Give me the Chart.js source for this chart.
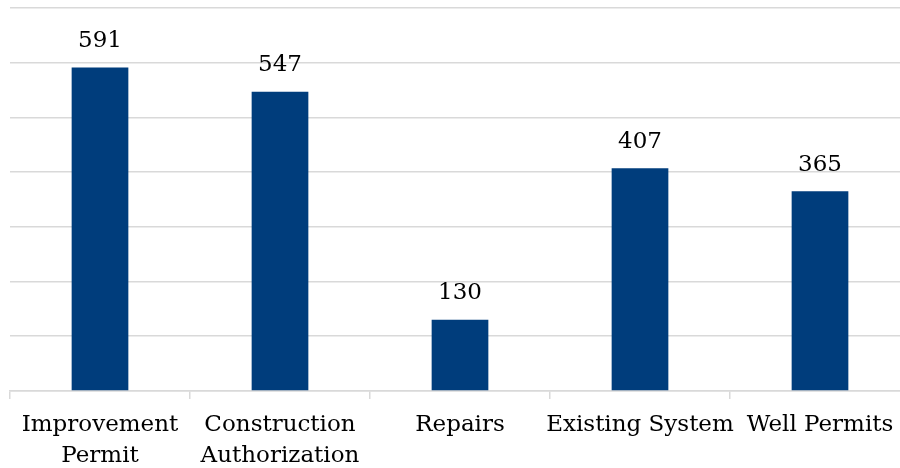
<!DOCTYPE html>
<html>
<head>
<meta charset="utf-8">
<script src="https://cdn.jsdelivr.net/npm/chart.js@4"></script>
<style>
  html, body { margin: 0; padding: 0; background: #fff; overflow: hidden; }
  #wrap { width: 910px; height: 483px; position: relative; }
</style>
</head>
<body>
<div id="wrap"><canvas id="chart1"></canvas></div>
<script>
const categories = [["Improvement", "Permit"], ["Construction", "Authorization"], "Repairs", "Existing System", "Well Permits"];
const permitCounts = [591, 547, 130, 407, 365];
const barColor = '#003d7c';
const gridColor = '#d9d9d9';
const fontFamily = '"DejaVu Serif", serif';

// draws the value above each bar
const valueLabels = {
    id: 'valueLabels',
    afterDatasetsDraw(chart) {
        const ctx = chart.ctx;
        const meta = chart.getDatasetMeta(0);
        ctx.save();
        ctx.font = '23px ' + fontFamily;
        ctx.fillStyle = '#000';
        ctx.textAlign = 'center';
        ctx.textBaseline = 'bottom';
        meta.data.forEach((bar, i) => {
            ctx.fillText(chart.data.datasets[0].data[i], bar.x, bar.y - 15);
        });
        ctx.restore();
    }
};

new Chart("chart1", {
    type: "bar",
    data: {
        labels: categories,
        datasets: [{
            data: permitCounts,
            backgroundColor: barColor,
            barPercentage: 1,
            categoryPercentage: 0.315
        }]
    },
    plugins: [valueLabels],
    options: {
        responsive: true,
        maintainAspectRatio: false,
        animation: false,
        layout: { padding: { left: 10, top: 8, right: 0, bottom: 0 } },
        plugins: {
            legend: { display: false },
            tooltip: { enabled: false }
        },
        scales: {
            y: {
                min: 0,
                max: 700,
                ticks: { stepSize: 100, display: false },
                grid: { color: gridColor, lineWidth: 1.5, drawTicks: false },
                border: { display: false }
            },
            x: {
                grid: { drawOnChartArea: false, drawTicks: true, tickLength: 8, color: gridColor, lineWidth: 1.5 },
                border: { color: gridColor, width: 1.5 },
                ticks: {
                    color: '#000',
                    maxRotation: 0,
                    autoSkip: false,
                    padding: 11,
                    font: { family: fontFamily, size: 23, lineHeight: 1.35 }
                }
            }
        }
    }
});
</script>
</body>
</html>
